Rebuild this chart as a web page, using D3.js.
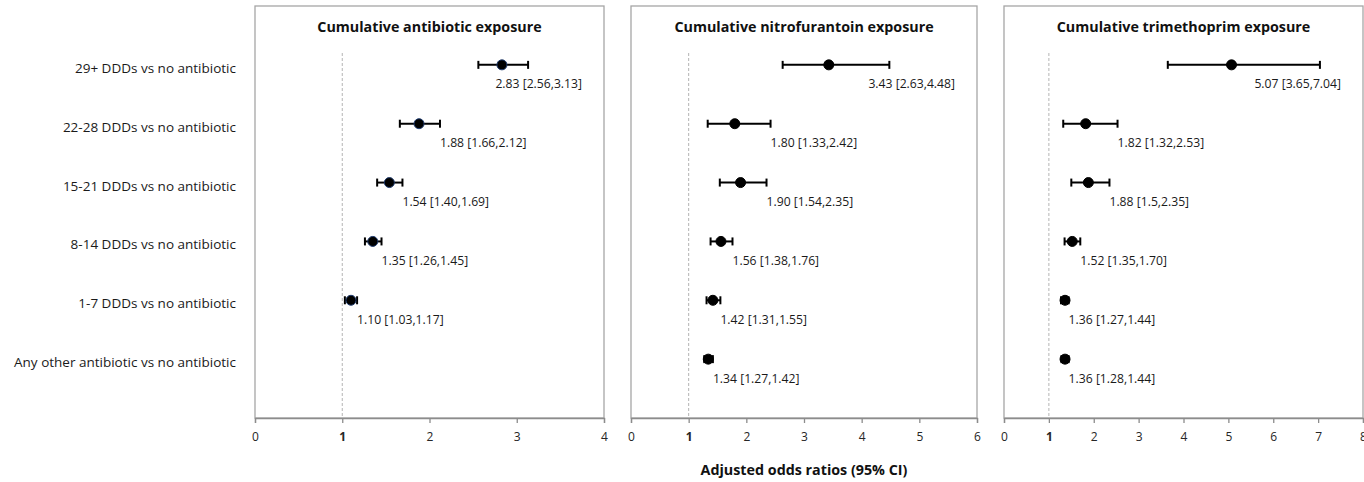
<!DOCTYPE html>
<html>
<head>
<meta charset="utf-8">
<script src="https://cdn.jsdelivr.net/npm/d3@7"></script>
<style>
    body { margin: 0; background: #fff; }
    svg { display: block; font-family: "Open Sans", sans-serif; }
</style>
</head>
<body>
<svg width="1364" height="482"></svg>
<script>
"use strict"

// categories (top to bottom)
const categories = [
    "29+ DDDs vs no antibiotic",
    "22-28 DDDs vs no antibiotic",
    "15-21 DDDs vs no antibiotic",
    "8-14 DDDs vs no antibiotic",
    "1-7 DDDs vs no antibiotic",
    "Any other antibiotic vs no antibiotic"
];

const panelTitles = [
    "Cumulative antibiotic exposure",
    "Cumulative nitrofurantoin exposure",
    "Cumulative trimethoprim exposure"
];

// cumulative antibiotic exposure
const antibioticOR   = [2.83, 1.88, 1.54, 1.35, 1.10, null];
const antibioticLow  = [2.56, 1.66, 1.40, 1.26, 1.03, null];
const antibioticHigh = [3.13, 2.12, 1.69, 1.45, 1.17, null];
const antibioticText = ["2.83 [2.56,3.13]", "1.88 [1.66,2.12]", "1.54 [1.40,1.69]",
                        "1.35 [1.26,1.45]", "1.10 [1.03,1.17]", null];

// cumulative nitrofurantoin exposure
const nitroOR   = [3.43, 1.80, 1.90, 1.56, 1.42, 1.34];
const nitroLow  = [2.63, 1.33, 1.54, 1.38, 1.31, 1.27];
const nitroHigh = [4.48, 2.42, 2.35, 1.76, 1.55, 1.42];
const nitroText = ["3.43 [2.63,4.48]", "1.80 [1.33,2.42]", "1.90 [1.54,2.35]",
                   "1.56 [1.38,1.76]", "1.42 [1.31,1.55]", "1.34 [1.27,1.42]"];

// cumulative trimethoprim exposure
const trimOR   = [5.07, 1.82, 1.88, 1.52, 1.36, 1.36];
const trimLow  = [3.65, 1.32, 1.5, 1.35, 1.27, 1.28];
const trimHigh = [7.04, 2.53, 2.35, 1.70, 1.44, 1.44];
const trimText = ["5.07 [3.65,7.04]", "1.82 [1.32,2.53]", "1.88 [1.5,2.35]",
                  "1.52 [1.35,1.70]", "1.36 [1.27,1.44]", "1.36 [1.28,1.44]"];

const xMaxes = [4, 6, 8];
const axisTitle = "Adjusted odds ratios (95% CI)";

// build rows for one panel
function makeRows(or, low, high, text) {
    let rows = [];
    for (let i = 0; i < categories.length; i++) {
        if (or[i] == null) continue;
        rows.push({ pos: categories.length - i, or: or[i], low: low[i], high: high[i], text: text[i] });
    }
    return rows;
}

const panels = [
    { title: panelTitles[0], max: xMaxes[0], rows: makeRows(antibioticOR, antibioticLow, antibioticHigh, antibioticText), left: 255, right: 604, edge: "#1f3b6e" },
    { title: panelTitles[1], max: xMaxes[1], rows: makeRows(nitroOR, nitroLow, nitroHigh, nitroText), left: 631, right: 977, edge: "#000" },
    { title: panelTitles[2], max: xMaxes[2], rows: makeRows(trimOR, trimLow, trimHigh, trimText), left: 1004, right: 1363, edge: "#000" }
];

const area = { top: 6, bottom: 418 };
const svg = d3.select("svg");

// vertical scale shared by all panels: row positions 1..6 inside 0..7
const scaleY = d3.scaleLinear()
    .domain([0, categories.length + 1])
    .range([area.bottom, area.top]);

// category labels on the left
svg.append("g")
    .selectAll("text")
    .data(categories)
    .enter()
    .append("text")
    .attr("x", 236)
    .attr("y", (d, i) => scaleY(categories.length - i) + 3)
    .attr("dominant-baseline", "central")
    .style("text-anchor", "end")
    .style("font-size", "13.5px")
    .style("fill", "#1a1a1a")
    .text(d => d);

panels.forEach(p => drawPanel(p));

function drawPanel(p) {
    const scaleX = d3.scaleLinear()
        .domain([0, p.max])
        .range([p.left, p.right]);

    const g = svg.append("g");

    // frame
    g.append("rect")
        .attr("x", p.left)
        .attr("y", area.top)
        .attr("width", p.right - p.left)
        .attr("height", area.bottom - area.top)
        .style("fill", "none")
        .style("stroke", "#a6a6a6")
        .style("stroke-width", 1.3);

    // reference line at 1
    g.append("line")
        .attr("x1", scaleX(1)).attr("x2", scaleX(1))
        .attr("y1", 53).attr("y2", area.bottom)
        .style("stroke", "#b4b4b4")
        .style("stroke-width", 1)
        .style("stroke-dasharray", "3,2");

    // x axis
    const axis = g.append("g")
        .attr("transform", `translate(0, ${area.bottom})`)
        .call(d3.axisBottom(scaleX).ticks(p.max).tickSize(5).tickPadding(9).tickFormat(d3.format("d")));
    axis.select(".domain").style("stroke", "#8c8c8c").style("stroke-width", 1.3);
    axis.selectAll(".tick line").style("stroke", "#8c8c8c").style("stroke-width", 1.3);
    axis.selectAll(".tick text")
        .style("font-family", "Open Sans, sans-serif")
        .style("font-size", "12px")
        .style("fill", "#262626")
        .style("font-weight", d => d == 1 ? "bold" : "normal");

    // title
    g.append("text")
        .attr("x", (p.left + p.right) / 2)
        .attr("y", 26)
        .attr("dominant-baseline", "central")
        .style("text-anchor", "middle")
        .style("font-size", "14.3px")
        .style("font-weight", "bold")
        .style("fill", "#111")
        .text(p.title);

    // error bars
    const bars = g.selectAll(".ci")
        .data(p.rows)
        .enter()
        .append("g");
    bars.append("line")
        .attr("x1", d => scaleX(d.low)).attr("x2", d => scaleX(d.high))
        .attr("y1", d => scaleY(d.pos)).attr("y2", d => scaleY(d.pos))
        .style("stroke", "#000").style("stroke-width", 2);
    bars.append("line")
        .attr("x1", d => scaleX(d.low)).attr("x2", d => scaleX(d.low))
        .attr("y1", d => scaleY(d.pos) - 4).attr("y2", d => scaleY(d.pos) + 4)
        .style("stroke", "#000").style("stroke-width", 2);
    bars.append("line")
        .attr("x1", d => scaleX(d.high)).attr("x2", d => scaleX(d.high))
        .attr("y1", d => scaleY(d.pos) - 4).attr("y2", d => scaleY(d.pos) + 4)
        .style("stroke", "#000").style("stroke-width", 2);

    // points
    g.selectAll(".dot")
        .data(p.rows)
        .enter()
        .append("circle")
        .attr("cx", d => scaleX(d.or))
        .attr("cy", d => scaleY(d.pos))
        .attr("r", 5)
        .style("fill", "#000")
        .style("stroke", p.edge)
        .style("stroke-width", 1);

    // value labels, start at the upper CI, kept inside the frame
    const labels = g.selectAll(".val")
        .data(p.rows)
        .enter()
        .append("text")
        .attr("y", d => scaleY(d.pos) + 19)
        .attr("dominant-baseline", "central")
        .style("font-size", "12.2px")
        .style("fill", "#1a1a1a")
        .text(d => d.text);
    labels.attr("x", function(d) {
        const w = this.getComputedTextLength();
        return Math.min(scaleX(d.high), p.right - 22 - w);
    });
}

// common x axis title
svg.append("text")
    .attr("x", (panels[1].left + panels[1].right) / 2)
    .attr("y", 469)
    .attr("dominant-baseline", "central")
    .style("text-anchor", "middle")
    .style("font-size", "14.3px")
    .style("font-weight", "bold")
    .style("fill", "#111")
    .text(axisTitle);
</script>
</body>
</html>
